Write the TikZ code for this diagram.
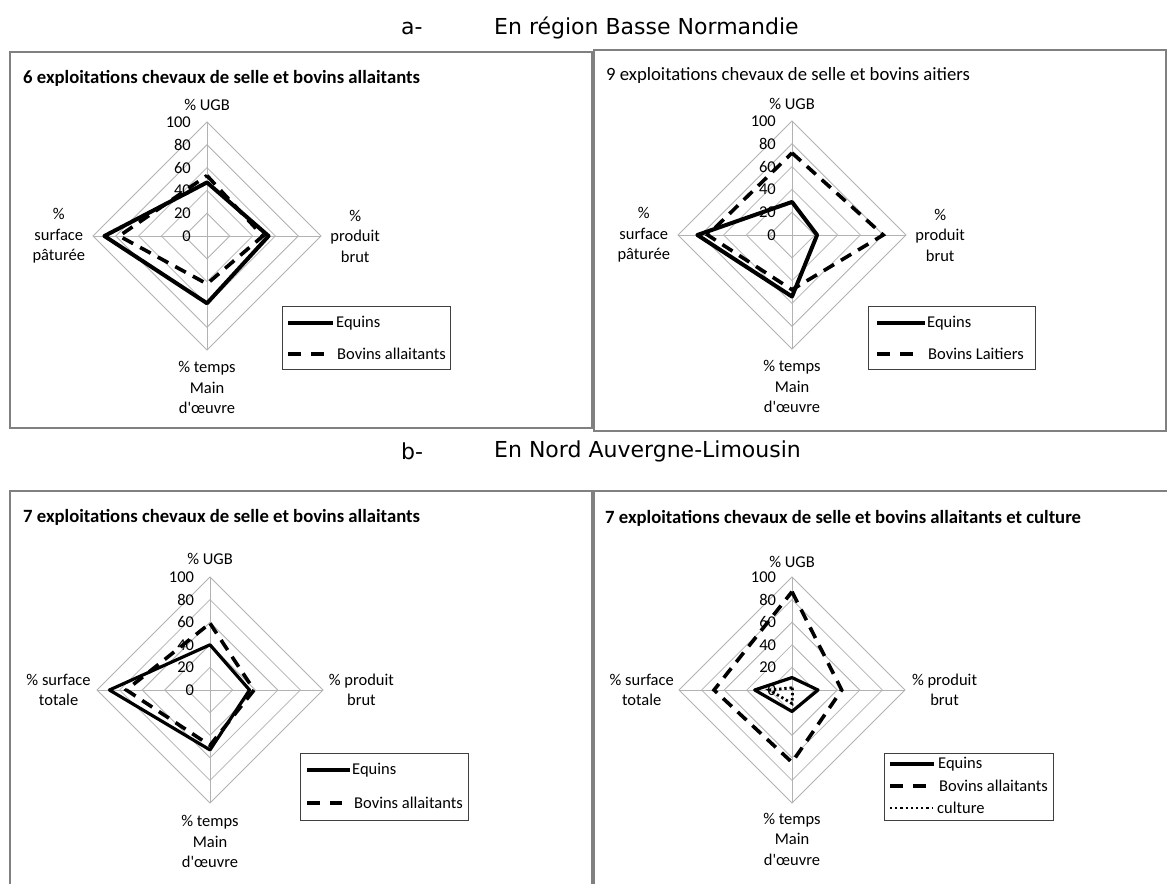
\documentclass[tikz,border=0pt]{standalone}
\usepackage{fontspec}
\setmainfont{Carlito}
\newfontfamily\chartfont{Carlito}
\newfontfamily\headfont{DejaVu Sans}
\newcommand{\radargrid}[1]{%
  \foreach \k in {20,40,60,80,100}{\draw[gridline] (0,-\k)--(\k,0)--(0,\k)--(-\k,0)--cycle;}
  \draw[gridline] (0,-100)--(0,100) (-100,0)--(100,0);
  \foreach \v in {0,20,40,60,80,100}{\node[chart,anchor=east] (#1t\v) at (-14,-\v) {\v};}
}
\begin{document}
\begin{tikzpicture}[x=1pt,y=-1pt,
  chart/.style={font=\chartfont\fontsize{16.5}{20.5}\selectfont, inner sep=0pt},
  ctitle/.style={inner sep=0pt, anchor=west, font=\chartfont\fontsize{18.7}{22}\selectfont\bfseries},
  ctitlereg/.style={inner sep=0pt, anchor=west, font=\chartfont\fontsize{18.7}{22}\selectfont},
  head/.style={inner sep=0pt, anchor=west, font=\headfont\fontsize{22}{26}\selectfont},
  gridline/.style={draw=black!30, line width=0.8pt},
  panel/.style={draw=black!50, line width=1.2pt},
  legbox/.style={draw=black!75, line width=0.9pt},
  equ/.style={draw=black, line width=4pt, line join=round},
  equb/.style={draw=black, line width=3.2pt, line join=round},
  bov/.style={draw=black, line width=3.6pt, dash pattern=on 12pt off 8pt},
  cult/.style={draw=black, line width=2.8pt, dash pattern=on 2.4pt off 2.8pt},
  P1/.style={shift={(207,236)}, x=1.14pt, y=-1.14pt},
  P2/.style={shift={(792,235)}, x=1.14pt, y=-1.14pt},
  P3/.style={shift={(210,690)}, x=1.13pt, y=-1.13pt},
  P4/.style={shift={(792,690)}, x=1.13pt, y=-1.13pt}]
\useasboundingbox[fill=white] (0,0) rectangle (1167,884);

% headers
\node[head] (ha) at (401,28) {a-};
\node[head] (hat) at (494,28) {En région Basse Normandie};
\node[head] (hb) at (401,451) {b-};
\node[head] (hbt) at (494,451) {En Nord Auvergne-Limousin};

% panel frames
\draw[panel] (10,52) rectangle (592,428);
\draw[panel] (594,50) rectangle (1166,431);
\draw[panel] (10,884) -- (10,491) -- (592,491) -- (592,884);
\draw[panel] (594,884) -- (594,491) -- (1167,491);

% titles
\node[ctitle] (t1) at (23,78) {6 exploitations chevaux de selle et bovins allaitants};
\node[ctitlereg] (t2) at (606,76) {9 exploitations chevaux de selle et bovins aitiers};
\node[ctitle] (t3) at (23,517) {7 exploitations chevaux de selle et bovins allaitants};
\node[ctitle] (t4) at (605,518) {7 exploitations chevaux de selle et bovins allaitants et culture};

% ---------- panel 1
\begin{scope}[P1]
  \radargrid{a}
  \node[chart] (augb) at (0,-115) {\% UGB};
  \node[chart,align=center] (asurf) at (-130,0) {\%\\surface\\pâturée};
  \node[chart,align=center] (aprod) at (130,0) {\%\\produit\\brut};
  \node[chart,align=center] (atemps) at (0,133) {\% temps\\Main\\d'œuvre};
  \draw[equ] (0,-47)--(54,0)--(0,59)--(-90,0)--cycle;
  \draw[bov] (0,-53)--(49,0)--(0,42)--(-77,0)--cycle;
\end{scope}
\draw[legbox] (282,306) rectangle (450,369);
\draw[equ] (288,323) -- (333,323);
\node[chart,anchor=west] (aleq) at (336,323) {Equins};
\draw[bov,dash pattern=on 13pt off 10pt] (288,354) -- (325,354);
\node[chart,anchor=west] (albo) at (337,354) {Bovins allaitants};

% ---------- panel 2
\begin{scope}[P2]
  \radargrid{b}
  \node[chart] (bugb) at (0,-115) {\% UGB};
  \node[chart,align=center] (bsurf) at (-130,0) {\%\\surface\\pâturée};
  \node[chart,align=center] (bprod) at (130,0) {\%\\produit\\brut};
  \node[chart,align=center] (btemps) at (0,133) {\% temps\\Main\\d'œuvre};
  \draw[equ] (0,-29)--(22,0)--(0,54)--(-83,0)--cycle;
  \draw[bov] (0,-72)--(80,0)--(0,48)--(-74,0)--cycle;
\end{scope}
\draw[legbox] (868,306) rectangle (1035,369);
\draw[equ] (877,323) -- (925,323);
\node[chart,anchor=west] (bleq) at (927,323) {Equins};
\draw[bov,dash pattern=on 13pt off 10pt] (877,354) -- (914,354);
\node[chart,anchor=west] (blbo) at (928,354) {Bovins Laitiers};

% ---------- panel 3
\begin{scope}[P3]
  \radargrid{c}
  \node[chart] (cugb) at (0,-116) {\% UGB};
  \node[chart,align=center] (csurf) at (-134,0) {\% surface\\totale};
  \node[chart,align=center] (cprod) at (134,0) {\% produit\\brut};
  \node[chart,align=center] (ctemps) at (0,134) {\% temps\\Main\\d'œuvre};
  \draw[equb] (0,-40)--(35,0)--(0,53)--(-89,0)--cycle;
  \draw[bov] (0,-59)--(39,0)--(0,49)--(-74,0)--cycle;
\end{scope}
\draw[legbox] (300,753) rectangle (468,820);
\draw[equb] (307,770) -- (350,770);
\node[chart,anchor=west] (cleq) at (352,770) {Equins};
\draw[bov,dash pattern=on 13pt off 10pt] (307,803) -- (342,803);
\node[chart,anchor=west] (clbo) at (354,803) {Bovins allaitants};

% ---------- panel 4
\begin{scope}[P4]
  \radargrid{d}
  \node[chart] (dugb) at (0,-113) {\% UGB};
  \node[chart,align=center] (dsurf) at (-133,0) {\% surface\\totale};
  \node[chart,align=center] (dprod) at (135,0) {\% produit\\brut};
  \node[chart,align=center] (dtemps) at (0,132) {\% temps\\Main\\d'œuvre};
  \draw[equb] (0,-11)--(23,0)--(0,19)--(-33,0)--cycle;
  \draw[bov] (0,-87)--(44,0)--(0,64)--(-69,0)--cycle;
  \draw[cult] (0,-2)--(0.5,0)--(0,12)--(-20,0)--cycle;
\end{scope}
\draw[legbox] (884,753) rectangle (1053,820);
\draw[equb] (890,764) -- (934,764);
\node[chart,anchor=west] (dleq) at (938,764) {Equins};
\draw[bov,dash pattern=on 13pt off 10pt] (890,786) -- (926,786);
\node[chart,anchor=west] (dlbo) at (939,786) {Bovins allaitants};
\draw[cult,line width=2.4pt,dash pattern=on 2.2pt off 3pt] (890,808) -- (932,808);
\node[chart,anchor=west] (dlcu) at (937,808) {culture};
\end{tikzpicture}
\end{document}
